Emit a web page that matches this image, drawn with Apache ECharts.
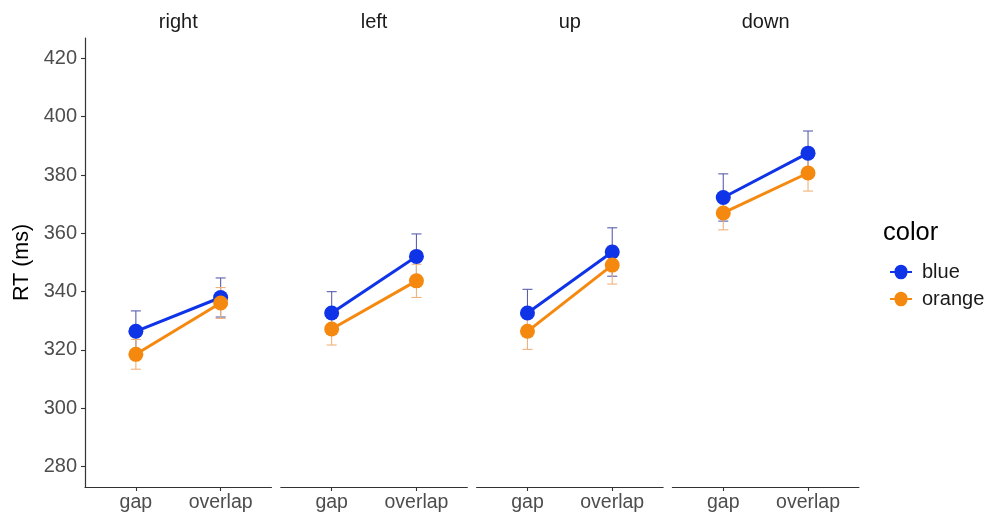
<!DOCTYPE html>
<html>
<head>
<meta charset="utf-8">
<script src="https://cdn.jsdelivr.net/npm/echarts@6/dist/echarts.min.js"></script>
<style>
  html, body { margin: 0; padding: 0; background: #fff; }
  #chart { width: 987px; height: 516px; }
</style>
</head>
<body>
<div id="chart"></div>
<script>
// Facets (target direction) and x categories (stimulus condition)
const facets = ['right', 'left', 'up', 'down'];
const conditions = ['gap', 'overlap'];

// Mean RT per facet: [gap, overlap]
const blueMean   = [[326.4, 338.0], [332.7, 352.1], [332.7, 353.6], [372.3, 387.5]];
const orangeMean = [[318.5, 336.1], [327.2, 343.7], [326.4, 349.1], [367.0, 380.7]];
// Error bar half-widths per facet: [gap, overlap]
const blueErr    = [[7.0, 6.7], [7.3, 7.7], [8.1, 8.3], [8.1, 7.6]];
const orangeErr  = [[5.1, 5.3], [5.5, 5.7], [6.2, 6.5], [5.8, 6.2]];

// Y tick labels
const yTicks = [280, 300, 320, 340, 360, 380, 400, 420];

const colorNames = ['blue', 'orange'];
const lineColors = { blue: '#0f33e6', orange: '#f5890f' };
const errColors  = { blue: '#5b5fae', orange: '#f0b27a' };

const FONT = 'Liberation Sans, Arial, Helvetica, sans-serif';

const chart = echarts.init(document.getElementById('chart'));

const panelLeft = 85, panelWidth = 186.5, panelGap = 9.3;
const panelTop = 38, panelBottom = 516 - 487;

const grids = [], xAxes = [], yAxes = [], series = [], graphics = [];

facets.forEach((f, i) => {
  const left = panelLeft + i * (panelWidth + panelGap);
  grids.push({ left: left, width: panelWidth, top: panelTop, bottom: panelBottom, containLabel: false });

  xAxes.push({
    gridIndex: i, type: 'value', min: 0.4, max: 2.6,
    axisLine: { show: true, lineStyle: { color: '#333', width: 1.2 } },
    axisTick: { show: true, customValues: [1, 2], length: 4, lineStyle: { color: '#333', width: 1.1 } },
    axisLabel: {
      customValues: [1, 2], margin: 6, fontSize: 19.5, color: '#4d4d4d', fontFamily: FONT,
      formatter: v => conditions[Math.round(v) - 1]
    },
    splitLine: { show: false }
  });

  const first = i === 0;
  yAxes.push({
    gridIndex: i, type: 'value', min: 273, max: 427,
    name: first ? 'RT (ms)' : '', nameLocation: 'middle', nameGap: 52, nameRotate: 90,
    nameTextStyle: { fontSize: 21.5, color: '#000', fontFamily: FONT },
    axisLine: { show: first, lineStyle: { color: '#333', width: 1.2 } },
    axisTick: { show: first, customValues: yTicks, length: 4, lineStyle: { color: '#333', width: 1.1 } },
    axisLabel: {
      show: first, customValues: yTicks, margin: 8, fontSize: 20, color: '#4d4d4d', fontFamily: FONT
    },
    splitLine: { show: false }
  });

  graphics.push({
    type: 'text', x: left + panelWidth / 2, y: 22,
    style: {
      text: f, fill: '#1a1a1a', fontSize: 20, fontFamily: FONT,
      textAlign: 'center', textVerticalAlign: 'middle'
    }
  });

  const means = { blue: blueMean[i], orange: orangeMean[i] };
  const errs = { blue: blueErr[i], orange: orangeErr[i] };

  colorNames.forEach(c => {
    // error bars (mean ± err)
    series.push({
      name: c + '-err', type: 'custom', xAxisIndex: i, yAxisIndex: i, z: 2, silent: true,
      data: conditions.map((_, k) => [k + 1, means[c][k] - errs[c][k], means[c][k] + errs[c][k]]),
      encode: { x: 0, y: [1, 2] },
      renderItem: (params, api) => {
        const x = api.value(0);
        const lo = api.coord([x, api.value(1)]);
        const hi = api.coord([x, api.value(2)]);
        const w = 5;
        const st = { stroke: errColors[c], lineWidth: 1.1 };
        return {
          type: 'group', children: [
            { type: 'line', shape: { x1: hi[0], y1: hi[1], x2: lo[0], y2: lo[1] }, style: st },
            { type: 'line', shape: { x1: hi[0] - w, y1: hi[1], x2: hi[0] + w, y2: hi[1] }, style: st },
            { type: 'line', shape: { x1: lo[0] - w, y1: lo[1], x2: lo[0] + w, y2: lo[1] }, style: st }
          ]
        };
      }
    });
    // mean line + points
    series.push({
      name: c, type: 'line', xAxisIndex: i, yAxisIndex: i, z: 3,
      data: conditions.map((_, k) => [k + 1, means[c][k]]),
      symbol: 'circle', symbolSize: 15, showSymbol: true,
      lineStyle: { color: lineColors[c], width: 3 },
      itemStyle: { color: lineColors[c], borderWidth: 0 },
      emphasis: { disabled: true },
      animation: false
    });
  });
});

graphics.push({
  type: 'text', x: 883, y: 233,
  style: {
    text: 'color', fill: '#000', fontSize: 25.5, fontFamily: FONT,
    textAlign: 'left', textVerticalAlign: 'middle'
  }
});

chart.setOption({
  animation: false,
  backgroundColor: '#fff',
  grid: grids,
  xAxis: xAxes,
  yAxis: yAxes,
  series: series,
  graphic: graphics,
  legend: {
    data: colorNames,
    orient: 'vertical',
    left: 885, top: 257,
    itemWidth: 22, itemHeight: 15, itemGap: 7,
    icon: 'path://M0,7H5A7,7 0 0,1 19,7H24V9H19A7,7 0 0,1 5,9H0Z',
    textStyle: { fontSize: 20, lineHeight: 20, color: '#1a1a1a', fontFamily: FONT, padding: [0, 0, 0, 5] },
    selectedMode: false
  }
});
</script>
</body>
</html>
